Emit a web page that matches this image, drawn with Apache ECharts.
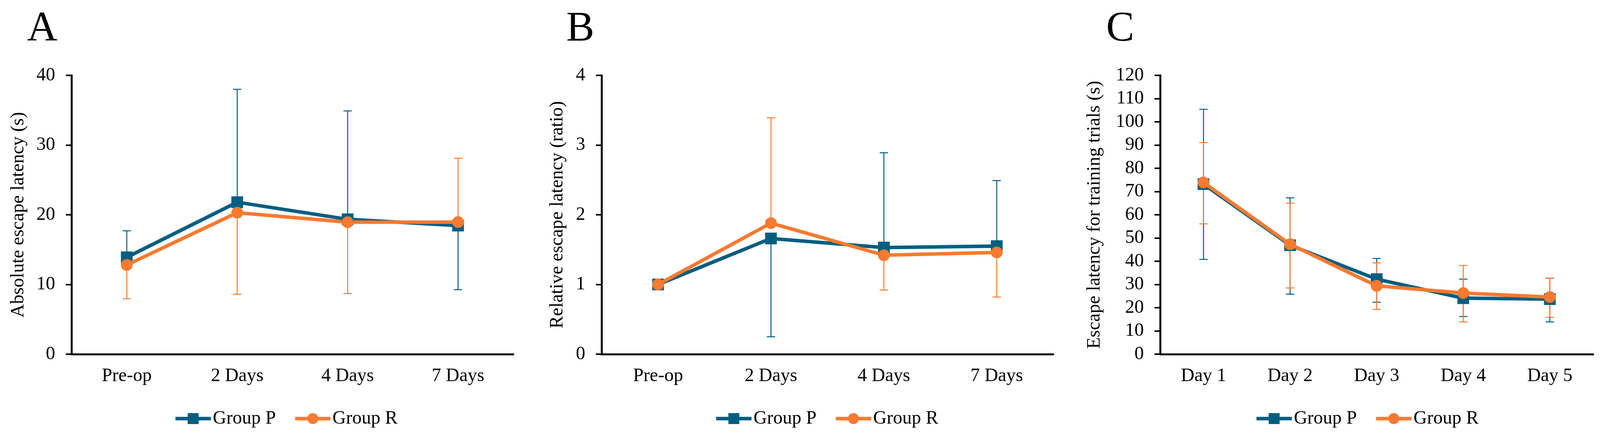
<!DOCTYPE html>
<html>
<head>
<meta charset="utf-8">
<script src="https://cdn.jsdelivr.net/npm/echarts@6/dist/echarts.min.js"></script>
<style>
html,body{margin:0;padding:0;background:#fff;overflow:hidden;}
#chart{width:100vw;height:1114px;}
</style>
</head>
<body>
<div id="chart"></div>
<script>
// ---- Data ----
const seriesNames = ['Group P', 'Group R'];

// Panel A: absolute escape latency (s)
const catsA = ['Pre-op', '2 Days', '4 Days', '7 Days'];
const aP = [13.9, 21.8, 19.35, 18.45];
const aR = [12.8, 20.3, 18.93, 18.95];
const aPHigh = [17.7, 38.0, 34.9, null];
const aPLow  = [null, null, null, 9.25];
const aRHigh = [null, null, null, 28.1];
const aRLow  = [7.95, 8.6, 8.7, null];
const ticksA = [0, 10, 20, 30, 40];

// Panel B: relative escape latency (ratio)
const catsB = ['Pre-op', '2 Days', '4 Days', '7 Days'];
const bP = [1.0, 1.66, 1.53, 1.55];
const bR = [1.0, 1.88, 1.42, 1.46];
const bPHigh = [null, null, 2.89, 2.49];
const bPLow  = [null, 0.25, null, null];
const bRHigh = [null, 3.39, null, null];
const bRLow  = [null, null, 0.92, 0.82];
const ticksB = [0, 1, 2, 3, 4];

// Panel C: escape latency for training trials (s)
const catsC = ['Day 1', 'Day 2', 'Day 3', 'Day 4', 'Day 5'];
const cP = [73.2, 46.9, 32.3, 24.1, 23.7];
const cR = [73.9, 47.3, 29.4, 26.3, 24.6];
const cPHigh = [105.4, 67.3, 41.2, 32.3, 32.7];
const cPLow  = [40.8, 25.8, 22.35, 16.2, 13.9];
const cRHigh = [91.1, 65.0, 39.3, 38.15, 32.7];
const cRLow  = [56.1, 28.5, 19.3, 13.9, 15.85];
const ticksC = [0, 10, 20, 30, 40, 50, 60, 70, 80, 90, 100, 110, 120];

// ---- Style ----
const TEAL = '#005E80';
const ORANGE = '#F77A30';
const FONT = '"Liberation Serif", "Times New Roman", serif';
const FS = 48;

const chart = echarts.init(document.getElementById('chart'), null, { renderer: 'canvas' });
// layout was measured on a 4202-px-wide figure; scale horizontal distances to the actual width
const SX = chart.getWidth() / 4202;
const X = v => v * SX;

function errData(mean, high, low) {
  const out = [];
  mean.forEach((m, i) => {
    if (high[i] != null) out.push([i, m, high[i]]);
    if (low[i] != null) out.push([i, m, low[i]]);
  });
  return out;
}

function errRender(color) {
  return function (params, api) {
    const x = api.value(0), m = api.value(1), e = api.value(2);
    const p0 = api.coord([x, m]);
    const p1 = api.coord([x, e]);
    const hw = X(11);
    return {
      type: 'group',
      children: [
        { type: 'line', shape: { x1: p0[0], y1: p0[1], x2: p1[0], y2: p1[1] }, style: { stroke: color, lineWidth: 2.5 } },
        { type: 'line', shape: { x1: p1[0] - hw, y1: p1[1], x2: p1[0] + hw, y2: p1[1] }, style: { stroke: color, lineWidth: 2.5 } }
      ]
    };
  };
}

const grids = [
  { left: X(188), top: 193, width: X(1160), height: 714 },
  { left: X(1580), top: 193, width: X(1186), height: 714 },
  { left: X(3047), top: 193, width: X(1137), height: 714 }
];

function xAxis(idx, cats) {
  return {
    type: 'category', gridIndex: idx, data: cats, boundaryGap: true,
    axisLine: { lineStyle: { color: '#000', width: 5 } },
    axisTick: { show: false },
    axisLabel: { color: '#000', fontFamily: FONT, fontSize: FS, margin: 32 }
  };
}

function yAxis(idx, ticks, name, gap) {
  return {
    type: 'value', gridIndex: idx,
    min: ticks[0], max: ticks[ticks.length - 1], interval: ticks[1] - ticks[0],
    name: name, nameLocation: 'middle', nameGap: X(gap), nameRotate: 90,
    nameTextStyle: { color: '#000', fontFamily: FONT, fontSize: FS },
    axisLine: { show: true, lineStyle: { color: '#000', width: 5 } },
    axisTick: { show: true, length: X(15), lineStyle: { color: '#000', width: 4 } },
    splitLine: { show: false },
    axisLabel: { color: '#000', fontFamily: FONT, fontSize: FS, margin: X(43) }
  };
}

function panelSeries(idx, p, r, pH, pL, rH, rL) {
  return [
    { type: 'custom', name: 'Group P SD', xAxisIndex: idx, yAxisIndex: idx, z: 1,
      renderItem: errRender(TEAL), data: errData(p, pH, pL), encode: { x: 0, y: [1, 2] }, silent: true },
    { type: 'custom', name: 'Group R SD', xAxisIndex: idx, yAxisIndex: idx, z: 2,
      renderItem: errRender(ORANGE), data: errData(r, rH, rL), encode: { x: 0, y: [1, 2] }, silent: true },
    { type: 'line', name: 'Group P', xAxisIndex: idx, yAxisIndex: idx, z: 3, data: p,
      symbol: 'rect', symbolSize: 30, itemStyle: { color: TEAL }, lineStyle: { color: TEAL, width: 9 } },
    { type: 'line', name: 'Group R', xAxisIndex: idx, yAxisIndex: idx, z: 4, data: r,
      symbol: 'circle', symbolSize: 30, itemStyle: { color: ORANGE }, lineStyle: { color: ORANGE, width: 9 } }
  ];
}

function legend(left) {
  return {
    data: seriesNames, left: X(left), top: 1043, orient: 'horizontal',
    itemWidth: X(93), itemHeight: 35, itemGap: X(46),
    lineStyle: { width: 9 },
    textStyle: { color: '#000', fontFamily: FONT, fontSize: FS }
  };
}

function letter(txt, x) {
  return { type: 'text', left: X(x), top: 22, style: { text: txt, fill: '#000', font: '108px ' + FONT } };
}

chart.setOption({
  backgroundColor: '#fff',
  animation: false,
  grid: grids,
  xAxis: [xAxis(0, catsA), xAxis(1, catsB), xAxis(2, catsC)],
  yAxis: [
    yAxis(0, ticksA, 'Absolute escape latency (s)', 115),
    yAxis(1, ticksB, 'Relative escape latency (ratio)', 91),
    yAxis(2, ticksC, 'Escape latency for training trials (s)', 147)
  ],
  legend: [legend(451), legend(1871), legend(3290)],
  graphic: [letter('A', 71), letter('B', 1487), letter('C', 2905)],
  series: [].concat(
    panelSeries(0, aP, aR, aPHigh, aPLow, aRHigh, aRLow),
    panelSeries(1, bP, bR, bPHigh, bPLow, bRHigh, bRLow),
    panelSeries(2, cP, cR, cPHigh, cPLow, cRHigh, cRLow)
  )
});
</script>
</body>
</html>
